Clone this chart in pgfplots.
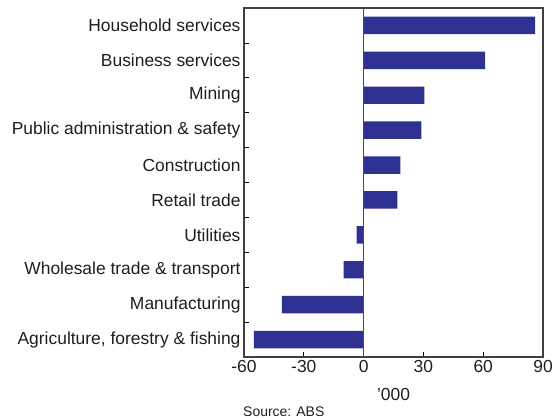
\documentclass[border=0pt]{standalone}
\usepackage{pgfplots}
\pgfplotsset{compat=1.18}
\usepackage{fontspec}
\setmainfont{Liberation Sans}
\definecolor{barblue}{RGB}{46,49,146}
\definecolor{txt}{RGB}{30,30,30}
\begin{document}
\begin{tikzpicture}
\begin{axis}[
  at={(0,0)}, anchor=south west,
  scale only axis, width=299bp, height=349bp,
  xmin=-60, xmax=90, ymin=-0.5, ymax=9.5,
  xbar, bar width=0.5,
  xtick={-60,-30,0,30,60,90},
  xticklabels={-60,-30,0,30,60,90},
  ytick={0.5,1.5,...,8.5},
  yticklabels={},
  extra y ticks={0,...,9},
  extra y tick labels={{Agriculture, forestry \& fishing}, Manufacturing, {Wholesale trade \& transport}, Utilities, Retail trade, Construction, {Public administration \& safety}, Mining, Business services, Household services},
  extra y tick style={major tick length=0pt},
  tick align=inside,
  xtick pos=left, ytick pos=left,
  major tick length=5bp,
  tick style={black, line width=0.7pt},
  axis line style={black!80, line width=1.1pt},
  tick label style={font=\fontsize{17.5}{21}\selectfont, text=txt},
  clip=false,
]
\addplot[fill=barblue, draw=none] coordinates {
 (-55,0) (-41,1) (-10,2) (-3.5,3) (17,4) (18.5,5) (29,6) (30.5,7) (61,8) (86,9)};
\draw[gray!60!black, line width=0.9pt] (axis cs:0,-0.5) -- (axis cs:0,9.5);
\draw[black!75, line width=1.1pt] (axis cs:-60,-0.5) rectangle (axis cs:90,9.5);
\end{axis}
\node[font=\fontsize{17.5}{21}\selectfont, text=txt] at (149.5bp,-37bp) {’000};
\node[font=\fontsize{14}{17}\selectfont, text=txt, anchor=west, inner sep=0pt] at (-1bp,-54.7bp) {Source: ABS};
\pgfresetboundingbox
\path[use as bounding box] (-244bp,-61bp) rectangle (310bp,357bp);
\end{tikzpicture}
\end{document}
